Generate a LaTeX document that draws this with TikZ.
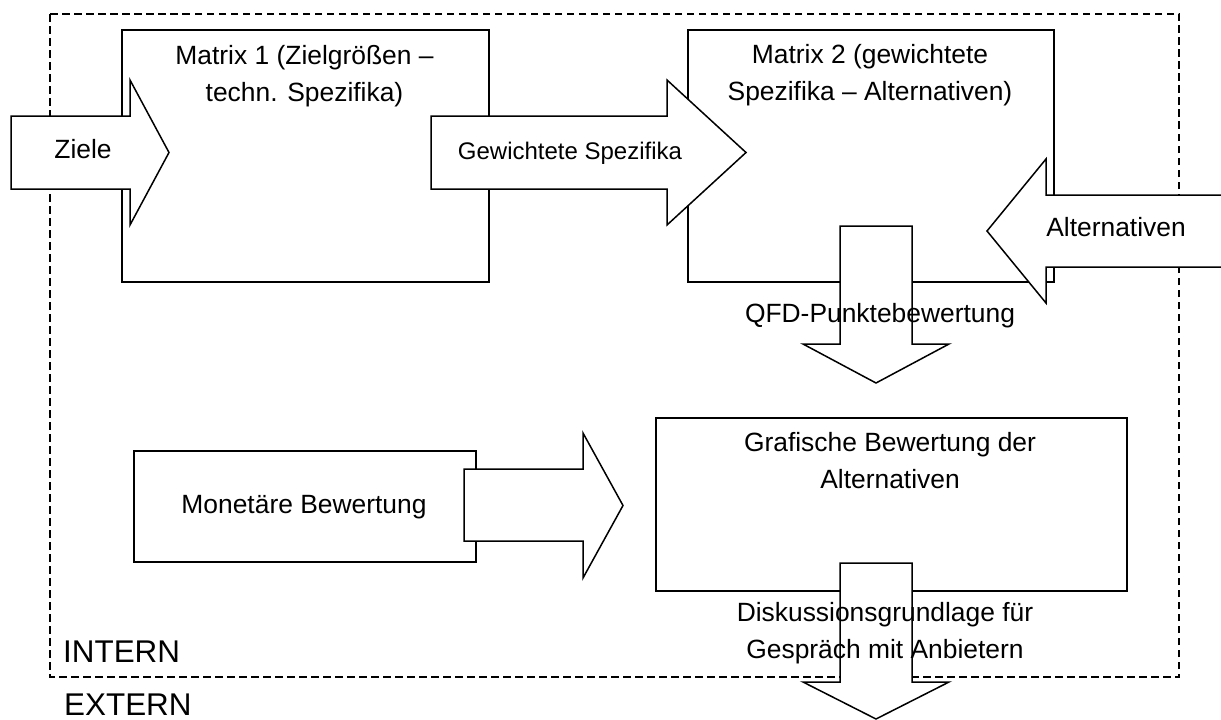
\documentclass[tikz,border=0pt]{standalone}
\usepackage{fontspec}
\setmainfont{Liberation Sans}
\begin{document}
\begin{tikzpicture}[x=1pt,y=-1pt,
  box/.style={draw, line width=1.5pt, inner sep=0pt, anchor=north west},
  barrow/.style={draw, fill=white, line width=1.5pt, line join=miter},
  frame/.style={draw, line width=1.2pt, dash pattern=on 7.5pt off 4.5pt},
  lbl/.style={anchor=base, inner sep=0pt, font=\fontsize{26.4}{37.5}\selectfont},
  small/.style={anchor=base, inner sep=0pt, font=\fontsize{24}{30}\selectfont},
  big/.style={anchor=base west, inner sep=0pt, font=\fontsize{31.4}{36}\selectfont}]
\clip (0,0) rectangle (1221,720);
\fill[white] (0,0) rectangle (1221,720);
% INTERN frame
\coordinate (fnw) at (50,14);
\coordinate (fse) at (1179,677);
\draw[frame] (fnw) rectangle (fse);
% boxes
\node[box, minimum width=367pt, minimum height=252pt] (m1) at (121,29) {};
\node[box, minimum width=366pt, minimum height=252pt] (m2) at (687,29) {};
\node[box, minimum width=471pt, minimum height=173pt] (gb) at (655,417) {};
\node[box, minimum width=342pt, minimum height=111pt] (mb) at (133,450) {};
% block arrows
\draw[barrow] (11,116) -- (130,116) -- (130,80) -- (169,152.5) -- (130,225) -- (130,189) -- (11,189) -- cycle;
\draw[barrow] (431,116) -- (667,116) -- (667,80) -- (746,152.5) -- (667,225) -- (667,189) -- (431,189) -- cycle;
\draw[barrow] (1240,195) -- (1046,195) -- (1046,159) -- (987,231) -- (1046,303) -- (1046,267) -- (1240,267) -- cycle;
\draw[barrow] (840,226) -- (912,226) -- (912,344) -- (949,344) -- (876,383) -- (803,344) -- (840,344) -- cycle;
\draw[barrow] (840,563) -- (912,563) -- (912,682) -- (949,682) -- (876,719) -- (803,682) -- (840,682) -- cycle;
\draw[barrow] (464,469) -- (583,469) -- (583,433) -- (623,505.5) -- (583,578) -- (583,541) -- (464,541) -- cycle;
% texts
\node[lbl] (tziele) at (83,158) {Ziele};
\node[small] (tgew) at (570,159) {Gewichtete Spezifika};
\node[lbl] (talt) at (1116,236) {Alternativen};
\node[lbl] (tm1) at (304.5,64) {\begin{tabular}[t]{@{}c@{}}Matrix 1 (Zielgrößen –\\techn. Spezifika)\end{tabular}};
\node[lbl] (tm2) at (870,63) {\begin{tabular}[t]{@{}c@{}}Matrix 2 (gewichtete\\Spezifika – Alternativen)\end{tabular}};
\node[lbl] (tqfd) at (880,322) {QFD-Punktebewertung};
\node[lbl] (tgb) at (890,451) {\begin{tabular}[t]{@{}c@{}}Grafische Bewertung der\\Alternativen\end{tabular}};
\node[lbl] (tmb) at (304,513) {Monetäre Bewertung};
\node[lbl] (tdis) at (885,621) {\begin{tabular}[t]{@{}c@{}}Diskussionsgrundlage für\\Gespräch mit Anbietern\end{tabular}};
\node[big] (tint) at (63,662) {INTERN};
\node[big] (text) at (64,715) {EXTERN};
\end{tikzpicture}
\end{document}
